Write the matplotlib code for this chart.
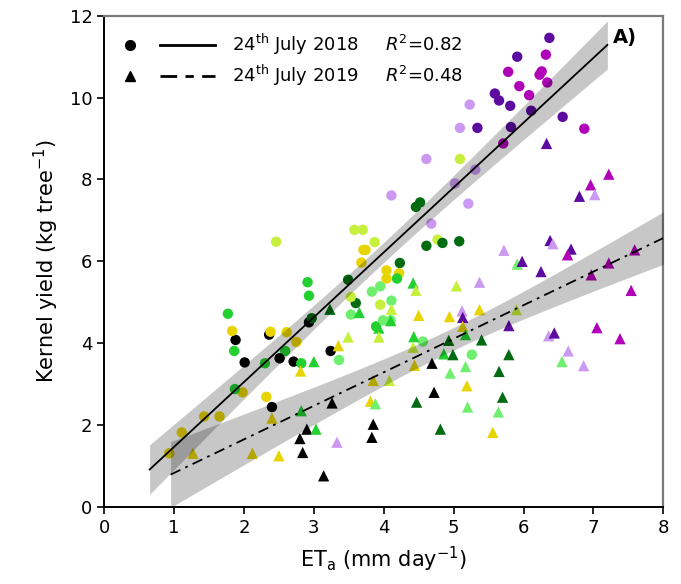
import numpy as np
import matplotlib.pyplot as plt

plt.rcParams['font.family'] = ['DejaVu Sans']
plt.rcParams['mathtext.fontset'] = 'dejavusans'

palette = {
    'K': '#000000',
    'Y': '#e8d400',
    'L': '#c6f03c',
    'LG': '#6ef06e',
    'G': '#22d030',
    'DG': '#006b10',
    'LP': '#cc99f2',
    'M': '#b000b8',
    'DP': '#5c0aa0',
}

# 24th July 2018 (circles)
x18 = [0.93, 1.11, 1.43, 1.65, 1.98, 1.87, 2.32, 2.40, 2.01, 2.30,
       1.88, 1.83, 1.77, 1.86, 2.36, 2.38, 2.61, 2.75, 2.59, 2.51,
       2.71, 2.82, 2.93, 2.97, 3.24, 3.36, 3.60, 3.53, 3.89, 2.46,
       2.91, 2.93, 3.49, 3.53, 3.58, 3.70, 3.87, 3.71, 3.74, 3.68,
       3.83, 3.95, 3.95, 4.23, 4.04, 4.22, 4.04, 4.19, 4.11, 3.99,
       4.10, 4.68, 4.61, 4.77, 4.84, 5.08, 5.26, 4.56, 6.37, 5.91,
       6.32, 5.78, 6.26, 6.23, 6.34, 5.94, 5.59, 5.65, 6.08, 5.81,
       6.11, 6.56, 6.87, 5.23, 5.09, 5.34, 5.82, 5.71, 4.61, 5.09,
       5.31, 5.02, 4.11, 5.21, 4.46, 4.52]
y18 = [1.31, 1.82, 2.21, 2.21, 2.80, 2.88, 2.69, 2.44, 3.53, 3.51,
       4.08, 4.30, 4.72, 3.81, 4.21, 4.28, 4.27, 4.03, 3.81, 3.63,
       3.55, 3.51, 4.51, 4.61, 3.81, 3.59, 4.98, 4.70, 4.41, 6.48,
       5.49, 5.16, 5.55, 5.13, 6.77, 6.77, 6.47, 6.28, 6.28, 5.97,
       5.26, 5.39, 4.94, 5.96, 5.78, 5.71, 5.58, 5.58, 5.04, 4.56,
       4.56, 6.92, 6.38, 6.53, 6.45, 6.49, 3.72, 4.04, 11.46, 11.00,
       11.05, 10.63, 10.64, 10.56, 10.37, 10.28, 10.10, 9.93, 10.06, 9.80,
       9.68, 9.53, 9.24, 9.83, 9.26, 9.26, 9.28, 8.88, 8.50, 8.50,
       8.24, 7.90, 7.61, 7.41, 7.33, 7.44]
c18 = ['Y', 'Y', 'Y', 'Y', 'Y', 'G', 'Y', 'K', 'K', 'G',
       'K', 'Y', 'G', 'G', 'K', 'Y', 'Y', 'Y', 'G', 'K',
       'K', 'G', 'K', 'DG', 'K', 'LG', 'DG', 'LG', 'G', 'L',
       'G', 'G', 'DG', 'L', 'L', 'L', 'L', 'Y', 'Y', 'Y',
       'LG', 'LG', 'L', 'DG', 'Y', 'Y', 'Y', 'G', 'LG', 'LG',
       'LG', 'LP', 'DG', 'L', 'DG', 'DG', 'LG', 'LG', 'DP', 'DP',
       'M', 'M', 'M', 'M', 'M', 'M', 'DP', 'DP', 'M', 'DP',
       'DP', 'DP', 'M', 'LP', 'LP', 'DP', 'DP', 'M', 'LP', 'L',
       'LP', 'LP', 'LP', 'LP', 'DG', 'DG']

# 24th July 2019 (triangles)
x19 = [1.27, 2.12, 2.50, 2.40, 2.82, 2.90, 2.80, 2.84, 3.03, 3.14,
       3.33, 3.26, 3.85, 3.83, 3.85, 3.81, 3.88, 2.81, 3.00, 3.35,
       3.49, 3.23, 3.65, 3.93, 3.93, 4.10, 4.42, 4.46, 4.11, 4.50,
       5.04, 5.37, 4.94, 5.37, 5.12, 5.13, 5.13, 4.43, 4.42, 4.93,
       5.17, 4.86, 4.99, 5.40, 4.44, 4.69, 4.95, 5.17, 4.08, 4.72,
       5.19, 4.47, 5.20, 5.65, 5.64, 5.70, 5.79, 4.81, 5.56, 6.38,
       6.42, 6.68, 6.63, 5.72, 5.91, 5.98, 6.25, 6.97, 7.22, 7.59,
       7.54, 5.90, 5.79, 6.36, 6.44, 7.05, 7.38, 6.64, 6.55, 6.86,
       6.33, 7.22, 6.96, 7.02, 6.80]
y19 = [1.31, 1.31, 1.25, 2.17, 2.35, 1.90, 1.67, 1.33, 1.90, 0.76,
       1.58, 2.54, 2.02, 1.70, 3.09, 2.58, 2.52, 3.32, 3.55, 3.94,
       4.15, 4.83, 4.75, 4.37, 4.15, 4.55, 5.47, 5.29, 4.83, 4.68,
       5.40, 5.49, 4.65, 4.82, 4.79, 4.63, 4.41, 4.16, 3.90, 4.07,
       4.21, 3.74, 3.72, 4.08, 3.46, 3.51, 3.27, 3.43, 3.09, 2.80,
       2.96, 2.56, 2.44, 3.31, 2.32, 2.68, 3.72, 1.90, 1.82, 6.51,
       6.43, 6.30, 6.16, 6.27, 5.93, 6.00, 5.75, 5.67, 5.96, 6.28,
       5.29, 4.82, 4.43, 4.18, 4.25, 4.38, 4.11, 3.81, 3.55, 3.45,
       8.88, 8.13, 7.87, 7.63, 7.59]
c19 = ['Y', 'Y', 'Y', 'Y', 'G', 'K', 'K', 'K', 'G', 'K',
       'LP', 'K', 'K', 'K', 'Y', 'Y', 'LG', 'Y', 'G', 'Y',
       'L', 'DG', 'G', 'G', 'L', 'G', 'G', 'L', 'L', 'Y',
       'L', 'LP', 'Y', 'Y', 'LP', 'DP', 'Y', 'G', 'L', 'DG',
       'G', 'G', 'DG', 'DG', 'Y', 'K', 'LG', 'LG', 'L', 'K',
       'Y', 'DG', 'LG', 'DG', 'LG', 'DG', 'DG', 'DG', 'Y', 'DP',
       'LP', 'DP', 'M', 'LP', 'LG', 'DP', 'DP', 'M', 'M', 'M',
       'M', 'L', 'DP', 'LP', 'DP', 'M', 'M', 'LP', 'LG', 'LP',
       'DP', 'M', 'M', 'LP', 'DP']

r2_18, r2_19 = 0.82, 0.48
# x extent of each regression line
span18 = (0.65, 7.2)
span19 = (0.95, 8.0)


def fit_band(x, y, span):
    x = np.asarray(x)
    y = np.asarray(y)
    b, a = np.polyfit(x, y, 1)
    n = len(x)
    s = np.sqrt(np.sum((y - (a + b * x)) ** 2) / (n - 2))
    sxx = np.sum((x - x.mean()) ** 2)
    xs = np.linspace(span[0], span[1], 100)
    yfit = a + b * xs
    half = 1.99 * s * np.sqrt(1 / n + (xs - x.mean()) ** 2 / sxx)
    return xs, yfit, yfit - half, yfit + half


fig, ax = plt.subplots(figsize=(6.81, 5.84), dpi=100)
fig.subplots_adjust(left=0.153, right=0.974, bottom=0.132, top=0.973)

ax.scatter(x18, y18, c=[palette[k] for k in c18], marker='o', s=56,
           linewidths=0, zorder=2)
ax.scatter(x19, y19, c=[palette[k] for k in c19], marker='^', s=66,
           linewidths=0, zorder=2)

xs, yf, lo, hi = fit_band(x18, y18, span18)
ax.fill_between(xs, lo, hi, color='k', alpha=0.22, lw=0, zorder=3)
ax.plot(xs, yf, color='k', lw=1.3, zorder=4)

xs, yf, lo, hi = fit_band(x19, y19, span19)
ax.fill_between(xs, lo, hi, color='k', alpha=0.22, lw=0, zorder=3)
ax.plot(xs, yf, color='k', lw=1.3, ls=(0, (6, 3, 1.5, 3)), zorder=4)

ax.set_xlim(0, 8)
ax.set_ylim(0, 12)
ax.set_xticks(range(0, 9))
ax.set_yticks(range(0, 13, 2))
ax.tick_params(direction='out', length=5, width=1.2, labelsize=13)
for side in ['left', 'bottom']:
    ax.spines[side].set_linewidth(1.4)
for side in ['top', 'right']:
    ax.spines[side].set_color('#7a7a7a')
    ax.spines[side].set_linewidth(1.6)

ax.set_xlabel('ET$_{\\mathrm{a}}$ (mm day$^{-1}$)', fontsize=15, labelpad=6)
ax.set_ylabel('Kernel yield (kg tree$^{-1}$)', fontsize=15, labelpad=6)

# legend drawn by hand: marker, line sample, label
rows = [('o', '-', '24$^{\\mathrm{th}}$ July 2018', r2_18, 0.941),
        ('^', (0, (6, 3, 3, 3)), '24$^{\\mathrm{th}}$ July 2019', r2_19, 0.878)]
for mk, ls, lab, r2, yy in rows:
    ax.plot([0.047], [yy], marker=mk, color='k', ms=7, ls='none',
            transform=ax.transAxes, zorder=5)
    ax.plot([0.100, 0.198], [yy, yy], color='k', lw=2, ls=ls,
            transform=ax.transAxes, zorder=5)
    ax.text(0.228, yy, lab, fontsize=13, va='center', ha='left',
            transform=ax.transAxes)
    ax.text(0.503, yy, '$R^2$=%.2f' % r2, fontsize=13, va='center',
            ha='left', transform=ax.transAxes)

ax.text(0.932, 0.955, 'A)', fontsize=14, fontweight='bold', ha='center',
        va='center', transform=ax.transAxes)

plt.savefig('out.png', dpi=100)
